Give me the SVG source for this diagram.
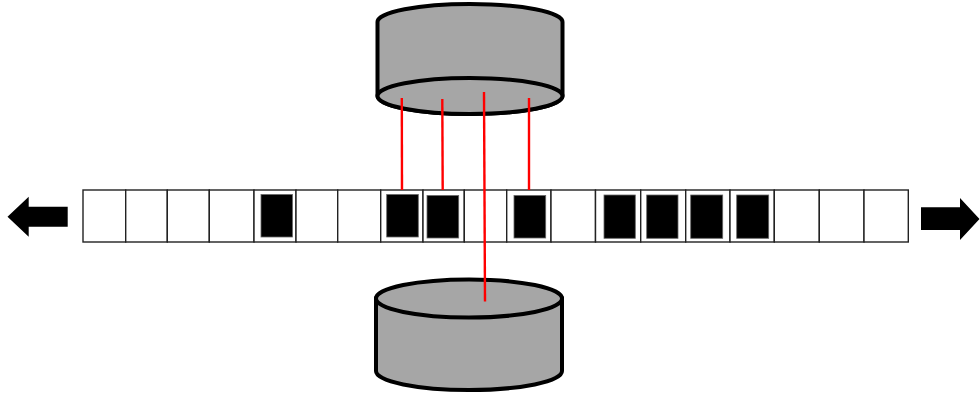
<svg xmlns="http://www.w3.org/2000/svg" width="980" height="394" viewBox="0 0 980 394">
  <style>
    .drum { fill: #a6a6a6; stroke: #000; stroke-width: 4; }
    .cell { fill: #fff; stroke: #222; stroke-width: 1.4; }
    .mark { fill: #000; stroke: #666; stroke-width: 0.8; }
    .probe { stroke: #ff0000; stroke-width: 2.4; fill: none; }
    .arrow { fill: #000; }
  </style>
  <rect width="980" height="394" fill="#fff"/>

  <!-- upper drum, seen from below -->
  <g id="drum-top">
    <path class="drum" d="M377.5,22 A92.5,18 0 0 1 562.5,22 L562.5,96 A92.5,18 0 0 1 377.5,96 Z"/>
    <ellipse class="drum" cx="470" cy="96" rx="92.5" ry="18"/>
  </g>

  <!-- tape of cells -->
  <g id="tape">
    <rect class="cell" x="83" y="190" width="42.7" height="52"/>
    <rect class="cell" x="125.7" y="190" width="41.6" height="52"/>
    <rect class="cell" x="167.3" y="190" width="42" height="52"/>
    <rect class="cell" x="209.3" y="190" width="44.7" height="52"/>
    <rect class="cell" x="254" y="190" width="42" height="52"/>
    <rect class="cell" x="296" y="190" width="41.7" height="52"/>
    <rect class="cell" x="337.7" y="190" width="43" height="52"/>
    <rect class="cell" x="380.7" y="190" width="42.3" height="52"/>
    <rect class="cell" x="423" y="190" width="41.3" height="52"/>
    <rect class="cell" x="464.3" y="190" width="42.4" height="52"/>
    <rect class="cell" x="506.7" y="190" width="44.3" height="52"/>
    <rect class="cell" x="551" y="190" width="44.5" height="52"/>
    <rect class="cell" x="595.5" y="190" width="45.2" height="52"/>
    <rect class="cell" x="640.7" y="190" width="45" height="52"/>
    <rect class="cell" x="685.7" y="190" width="44.3" height="52"/>
    <rect class="cell" x="730" y="190" width="44.3" height="52"/>
    <rect class="cell" x="774.3" y="190" width="45" height="52"/>
    <rect class="cell" x="819.3" y="190" width="44.7" height="52"/>
    <rect class="cell" x="864" y="190" width="44.3" height="52"/>

    <rect class="mark" x="261" y="194.5" width="31.5" height="42.5"/>
    <rect class="mark" x="386.7" y="194.5" width="31.6" height="42.5"/>
    <rect class="mark" x="427" y="195.5" width="31.7" height="42.5"/>
    <rect class="mark" x="514" y="195.5" width="31.7" height="42.5"/>
    <rect class="mark" x="604" y="195" width="31.3" height="43.3"/>
    <rect class="mark" x="646.7" y="195" width="31.3" height="43.3"/>
    <rect class="mark" x="690.7" y="195" width="32" height="43.3"/>
    <rect class="mark" x="736.7" y="195" width="32" height="43.3"/>
  </g>

  <!-- direction arrows -->
  <g id="arrow-left">
    <polygon class="arrow" points="7.5,216.7 28.7,196.7 28.7,206.7 67.7,206.7 67.7,226.7 28.7,226.7 28.7,236.7"/>
  </g>
  <g id="arrow-right">
    <polygon class="arrow" points="979.5,219 960,198 960,207.3 921,207.3 921,230 960,230 960,240"/>
  </g>

  <!-- lower drum, seen from above -->
  <g id="drum-bottom">
    <path class="drum" d="M376,298.5 L376,371 A93,19 0 0 0 562,371 L562,298.5 Z"/>
    <ellipse class="drum" cx="469" cy="298.5" rx="93" ry="19"/>
  </g>

  <!-- read/write probes -->
  <g id="connectors">
    <line class="probe" x1="401.8" y1="98" x2="402" y2="190"/>
    <line class="probe" x1="442.3" y1="99" x2="442.7" y2="190"/>
    <line class="probe" x1="484" y1="92" x2="485" y2="301.5"/>
    <line class="probe" x1="529" y1="98" x2="529" y2="190"/>
  </g>
</svg>
